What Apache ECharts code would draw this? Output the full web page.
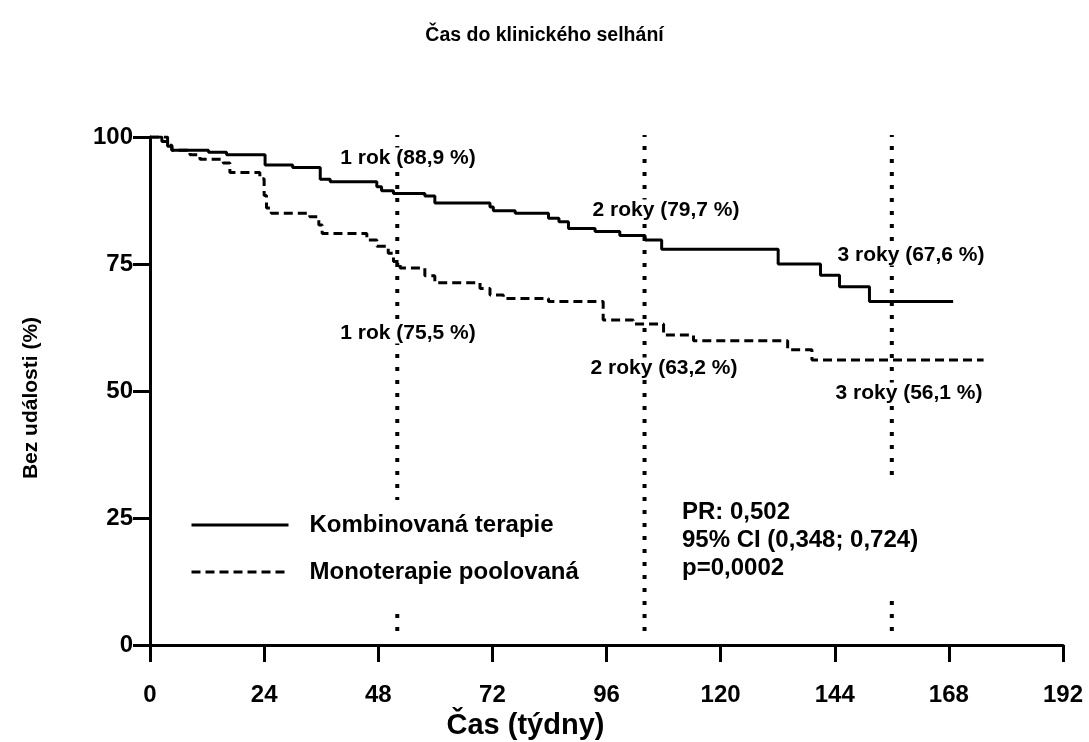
<!DOCTYPE html>
<html><head><meta charset="utf-8">
<script src="https://cdn.jsdelivr.net/npm/echarts@6/dist/echarts.min.js"></script>
<style>html,body{margin:0;padding:0;background:#fff}#c{width:1089px;height:742px}</style>
</head><body><div id="c"></div>
<script>
// ---- data ----
const titleText = 'Čas do klinického selhání';
const xName = 'Čas (týdny)';
const yName = 'Bez události (%)';
const seriesNames = ['Kombinovaná terapie', 'Monoterapie poolovaná'];

const weeksKomb = [0, 2.5, 3.7, 4.6, 12.3, 16.1, 24.2, 30.0, 35.8, 37.9, 47.7, 48.7, 51.2, 57.8, 59.9, 71.5, 72.2, 76.8, 83.8, 86.0, 88.0, 93.6, 98.8, 104.1, 107.6, 132.1, 141.0, 145.0, 151.3, 168.9];
const survKomb  = [100, 99.1, 98.2, 97.4, 97.0, 96.5, 94.5, 94.0, 91.7, 91.2, 90.2, 89.4, 88.9, 88.4, 87.0, 86.2, 85.5, 85.0, 84.0, 83.3, 82.0, 81.4, 80.6, 79.7, 77.9, 75.0, 72.8, 70.5, 67.6, 67.6];

const weeksMono = [0, 3.7, 4.6, 8.4, 10.5, 15.4, 16.8, 23.1, 24.0, 24.5, 25.5, 33.6, 35.5, 36.2, 45.6, 47.7, 50.1, 51.2, 52.6, 57.8, 59.9, 69.4, 71.5, 74.3, 83.8, 95.3, 101.6, 108.0, 114.3, 134.1, 139.2, 175.3];
const survMono  = [100, 98.4, 97.4, 96.5, 95.6, 94.9, 93.0, 91.8, 88.5, 86.0, 85.0, 84.3, 82.7, 81.0, 79.7, 78.5, 77.1, 75.5, 74.2, 72.7, 71.3, 70.2, 68.9, 68.2, 67.6, 64.0, 63.2, 61.0, 59.9, 58.1, 56.1, 56.1];

const milestoneWeeks = [52, 104, 156];
const milestoneLabelsKomb = ['1 rok (88,9 %)', '2 roky (79,7 %)', '3 roky (67,6 %)'];
const milestoneLabelsMono = ['1 rok (75,5 %)', '2 roky (63,2 %)', '3 roky (56,1 %)'];
const statsLines = ['PR: 0,502', '95% CI (0,348; 0,724)', 'p=0,0002'];

const xMin = 0, xMax = 192, xStep = 24;
const yMin = 0, yMax = 100, yStep = 25;

// ---- chart ----
const FONT = "'Liberation Sans', Arial, Helvetica, sans-serif";
const pairs = (xs, ys) => xs.map((x, i) => [x, ys[i]]);

const milestoneSeries = milestoneWeeks.map((w, i) => ({
  name: 'milestone' + i,
  type: 'line',
  data: [[w, 100.8], [w, 1]],
  symbol: 'none',
  silent: true,
  z: 1,
  lineStyle: { color: '#000', width: 4, type: [4, 9] }
}));

const labelPos = [[408, 158], [666, 210], [911, 255]];
const labelPos2 = [[408, 333], [664, 368], [909, 393]];
const textStyleBase = { fill: '#000', fontFamily: FONT, fontWeight: 'bold', fontSize: 21,
                        align: 'center', verticalAlign: 'middle', backgroundColor: '#fff' };

const graphics = [];
milestoneLabelsKomb.forEach((t, i) => graphics.push({ type: 'text', x: labelPos[i][0], y: labelPos[i][1], z: 100,
  style: Object.assign({}, textStyleBase, { text: t }) }));
milestoneLabelsMono.forEach((t, i) => graphics.push({ type: 'text', x: labelPos2[i][0], y: labelPos2[i][1], z: 100,
  style: Object.assign({}, textStyleBase, { text: t }) }));
graphics.push({ type: 'text', x: 672, y: 480, z: 100,
  style: { text: statsLines.join('\n'), fill: '#000', fontFamily: FONT, fontWeight: 'bold', fontSize: 24,
           lineHeight: 28, align: 'left', verticalAlign: 'top', backgroundColor: '#fff', padding: [18, 14, 18, 10] } });

const chart = echarts.init(document.getElementById('c'), null, { renderer: 'canvas' });
chart.setOption({
  animation: false,
  backgroundColor: '#fff',
  title: { text: titleText, left: 'center', top: 21,
    textStyle: { fontFamily: FONT, fontWeight: 'bold', fontSize: 19.5, color: '#000' } },
  grid: { left: 150, right: 26, top: 137, bottom: 97, containLabel: false, outerBoundsMode: 'none' },
  legend: {
    data: seriesNames, orient: 'vertical', left: 187, top: 500,
    itemWidth: 97, itemHeight: 20, itemGap: 23,
    padding: [13, 10, 22, 3], backgroundColor: '#fff',
    itemStyle: { opacity: 0 },
    lineStyle: { width: 3 },
    textStyle: { fontFamily: FONT, fontWeight: 'bold', fontSize: 24, color: '#000', padding: [0, 0, 0, 16] },
    selectedMode: false
  },
  xAxis: {
    type: 'value', min: xMin, max: xMax, interval: xStep,
    name: xName, nameLocation: 'middle', nameGap: 56,
    nameTextStyle: { fontFamily: FONT, fontWeight: 'bold', fontSize: 29, color: '#000', padding: [0, 162, 0, 0] },
    axisLine: { show: true, lineStyle: { color: '#000', width: 3 } },
    axisTick: { show: true, length: 17, lineStyle: { color: '#000', width: 3 } },
    axisLabel: { fontFamily: FONT, fontWeight: 'bold', fontSize: 24, color: '#000', margin: 38 },
    splitLine: { show: false }
  },
  yAxis: {
    type: 'value', min: yMin, max: yMax, interval: yStep,
    name: yName, nameLocation: 'middle', nameGap: 108,
    nameTextStyle: { fontFamily: FONT, fontWeight: 'bold', fontSize: 21, color: '#000', padding: [0, 14, 0, 0] },
    axisLine: { show: true, lineStyle: { color: '#000', width: 3 } },
    axisTick: { show: true, length: 17, lineStyle: { color: '#000', width: 3 } },
    axisLabel: { fontFamily: FONT, fontWeight: 'bold', fontSize: 24, color: '#000', margin: 17 },
    splitLine: { show: false }
  },
  graphic: graphics,
  series: milestoneSeries.concat([
    { name: seriesNames[0], type: 'line', step: 'end', symbol: 'none', z: 3,
      data: pairs(weeksKomb, survKomb),
      lineStyle: { color: '#000', width: 3 }, itemStyle: { color: '#000' } },
    { name: seriesNames[1], type: 'line', step: 'end', symbol: 'none', z: 3,
      data: pairs(weeksMono, survMono),
      lineStyle: { color: '#000', width: 3, type: [9, 5] }, itemStyle: { color: '#000' } }
  ])
});
</script></body></html>
